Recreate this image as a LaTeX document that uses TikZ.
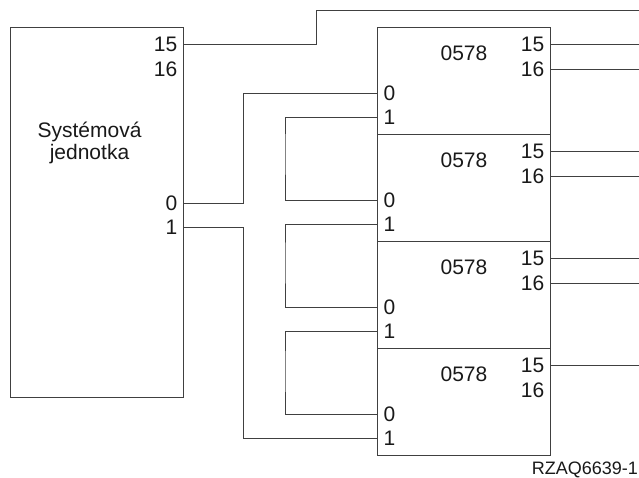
\documentclass[tikz,border=0pt]{standalone}
\usepackage{fontspec}
\setmainfont{Liberation Sans}
\usetikzlibrary{calc}
\begin{document}
\begin{tikzpicture}[x=1pt,y=-1pt,
  font=\fontsize{21}{22}\selectfont,
  wire/.style={line width=0.9pt,draw=black!75},
  unitbox/.style={wire,rectangle,inner sep=0pt,minimum width=173pt,anchor=north west},
  pinr/.style={anchor=east,text=black!90,inner sep=6.5pt},
  pinl/.style={anchor=west,text=black!90,inner sep=6.5pt}]
\useasboundingbox (0,0) rectangle (639,478);
% system unit
\node[unitbox,minimum height=370pt] (sys) at (10,27) {};
\node[align=center,text=black!90] (systxt) at (89.5,143) {Systémová\\jednotka};
\coordinate (s15) at ($(sys.north east)+(0,17.5)$);
\coordinate (s16) at ($(sys.north east)+(0,42)$);
\coordinate (s0) at ($(sys.north east)+(0,176)$);
\coordinate (s1) at ($(sys.north east)+(0,200)$);
\node[pinr] (s15l) at (s15) {15};
\node[pinr] (s16l) at (s16) {16};
\node[pinr] (s0l) at (s0) {0};
\node[pinr] (s1l) at (s1) {1};
% 0578 units
\foreach \i/\t in {1/27,2/134,3/241,4/348}{
  \node[unitbox,minimum height=107pt] (b\i) at (377,\t) {};
  \node[text=black!90] (b\i n) at ($(b\i.north)+(0,26)$) {0578};
  \coordinate (b\i p15) at ($(b\i.north east)+(0,17.5)$);
  \coordinate (b\i p16) at ($(b\i.north east)+(0,42.5)$);
  \coordinate (b\i p0) at ($(b\i.north west)+(0,66)$);
  \coordinate (b\i p1) at ($(b\i.north west)+(0,90)$);
  \node[pinr] (b\i l15) at (b\i p15) {15};
  \node[pinr] (b\i l16) at (b\i p16) {16};
  \node[pinl] (b\i l0) at (b\i p0) {0};
  \node[pinl] (b\i l1) at (b\i p1) {1};
}
% connectors
\coordinate (top) at (639,10);
\draw[wire] (s15) -| (316,10) -- (top);
\draw[wire] (s0) -| (243,93) |- (b1p0);
\draw[wire] (s1) -| (243,438) |- (b4p1);
\draw[wire] (b1p1) -| (285,150) |- (b2p0);
\draw[wire] (b2p1) -| (285,260) |- (b3p0);
\draw[wire] (b3p1) -| (285,370) |- (b4p0);
\foreach \p in {b1p15,b1p16,b2p15,b2p16,b3p15,b3p16,b4p15}{
  \coordinate (\p e) at ($(\p)+(89,0)$);
  \draw[wire] (\p) -- (\p e);
}
\node[anchor=base east,inner sep=0pt,font=\fontsize{18}{19}\selectfont,text=black!90] (fig) at (638,474) {RZAQ6639-1};
\end{tikzpicture}
\end{document}
